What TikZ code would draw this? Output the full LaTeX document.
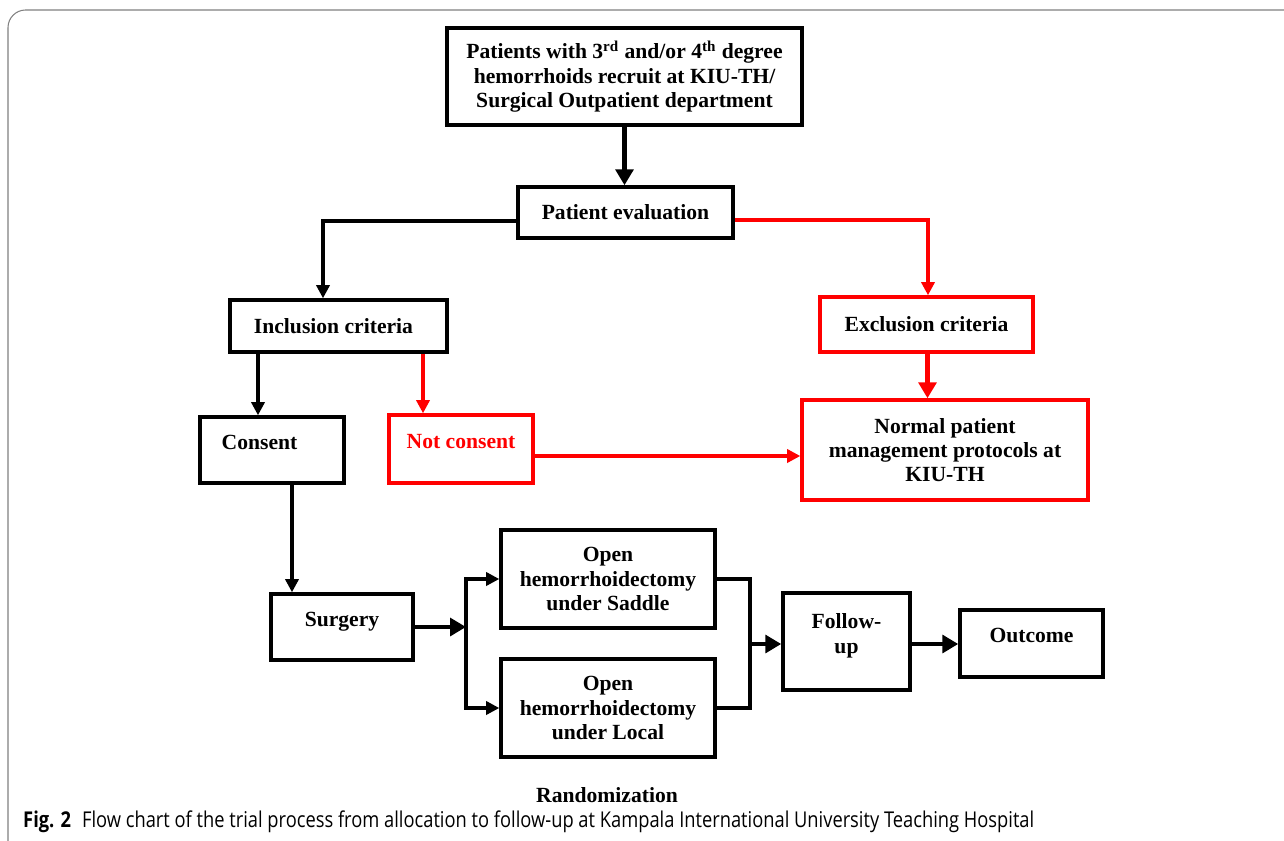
\documentclass[tikz,border=0pt]{standalone}
\usepackage{fontspec}
\setmainfont{Liberation Serif}
\newfontfamily\capfont[FakeStretch=0.84]{Open Sans}
\usetikzlibrary{arrows.meta}

\begin{document}
\begin{tikzpicture}[x=0.02cm, y=-0.02cm,
      % --- GLOBAL STYLES ---
      every node/.style={font=\fontsize{12.3}{13.8}\selectfont\bfseries},
      box/.style={rectangle, draw=black, line width=2pt, align=center, inner sep=2pt},
      redbox/.style={box, draw=red, text=black},
      raised/.style={text depth=9pt},
      %
      line/.style={line width=1.8pt, draw=black},
      arrow/.style={line, -{Triangle[length=7.5pt, width=7.5pt]}},
      heavy/.style={line width=2.8pt, draw=black, -{Triangle[length=9pt, width=10pt]}},
      redarrow/.style={line width=1.8pt, draw=red, -{Triangle[length=7.5pt, width=7.5pt]}},
      redheavy/.style={line width=2.8pt, draw=red, -{Triangle[length=9pt, width=10pt]}}
  ]
    \useasboundingbox (0,0) rectangle (1284,841);
    %
    % 1. Page frame
    \draw[gray, line width=0.6pt, rounded corners=10pt] (8,841) -- (8,10) -- (1290,10);
    %
    % 2. Recruitment and evaluation
    \node[box, minimum width=7.1cm, minimum height=1.94cm] (patients) at (624.5,76.5)
      {Patients with 3\textsuperscript{rd} and/or 4\textsuperscript{th} degree\\hemorrhoids recruit at KIU-TH/\\Surgical Outpatient department};
    \node[box, minimum width=4.3cm, minimum height=1.02cm] (evaluation) at (625.5,212.5) {Patient evaluation};
    %
    % 3. Criteria
    \node[box, minimum width=4.34cm, minimum height=1.04cm] (inclusion) at (338.5,326) {Inclusion criteria\hspace*{0.2cm}};
    \node[redbox, minimum width=4.26cm, minimum height=1.1cm] (exclusion) at (926.5,324.5) {Exclusion criteria};
    %
    % 4. Consent
    \node[box, raised, minimum width=2.88cm, minimum height=1.32cm] (consent) at (272,450) {Consent\hspace*{0.5cm}};
    \node[redbox, raised, text=red, minimum width=2.88cm, minimum height=1.36cm] (notconsent) at (461,449) {Not consent};
    \node[redbox, minimum width=5.72cm, minimum height=2cm] (normal) at (945,450)
      {Normal patient\\management protocols at\\KIU-TH};
    %
    % 5. Randomization
    \node[box, raised, minimum width=2.84cm, minimum height=1.32cm] (surgery) at (342,627) {Surgery};
    \node[box, minimum width=4.28cm, minimum height=1.96cm] (saddle) at (608,579) {Open\\hemorrhoidectomy\\under Saddle};
    \node[box, minimum width=4.28cm, minimum height=1.96cm] (local) at (608,708) {Open\\hemorrhoidectomy\\under Local};
    \node[box, raised, minimum width=2.54cm, minimum height=1.94cm] (followup) at (846.5,641.5) {Follow-\\up};
    \node[box, raised, minimum width=2.86cm, minimum height=1.34cm] (outcome) at (1031.5,643.5) {Outcome};
    \node (randomization) at (607,795) {Randomization};
    %
    % 6. Caption
    \node[font=\capfont\fontsize{12.4}{14}\selectfont, anchor=west] (caption) at (17,822)
      {\textbf{Fig. 2}\enspace Flow chart of the trial process from allocation to follow-up at Kampala International University Teaching Hospital};
    %
    % 7. Links
    \draw[heavy] (patients.south) -- (patients.south |- evaluation.north);
    \draw[arrow] ([yshift=-0.17cm]evaluation.west) -| ([xshift=-0.31cm]inclusion.north);
    \draw[redarrow] ([yshift=-0.15cm]evaluation.east) -| ([xshift=0.03cm]exclusion.north);
    \draw[redheavy] ([xshift=0.02cm]exclusion.south) -- ([xshift=0.02cm]exclusion.south |- normal.north);
    \draw[arrow] ([xshift=-0.28cm]consent.north |- inclusion.south) -- ([xshift=-0.28cm]consent.north);
    \draw[redarrow] ([xshift=-0.76cm]notconsent.north |- inclusion.south) -- ([xshift=-0.76cm]notconsent.north);
    \draw[redarrow] ([yshift=-0.14cm]notconsent.east) -- ([yshift=-0.14cm]notconsent.east -| normal.west);
    \draw[arrow] ([xshift=0.4cm]consent.south) -- ([xshift=0.4cm]consent.south |- surgery.north);
    %
    % 8. Branches
    \coordinate (split) at (466,627);
    \coordinate (join) at (750,644);
    \draw[heavy] (surgery.east) -- (split);
    \draw[arrow] (split) |- (saddle.west);
    \draw[arrow] (split) |- (local.west);
    \draw[line] (saddle.east) -| (join) |- (local.east);
    \draw[heavy] (join) -- (followup.west |- join);
    \draw[heavy] (followup.east |- join) -- (outcome.west |- join);
  \end{tikzpicture}
\end{document}
